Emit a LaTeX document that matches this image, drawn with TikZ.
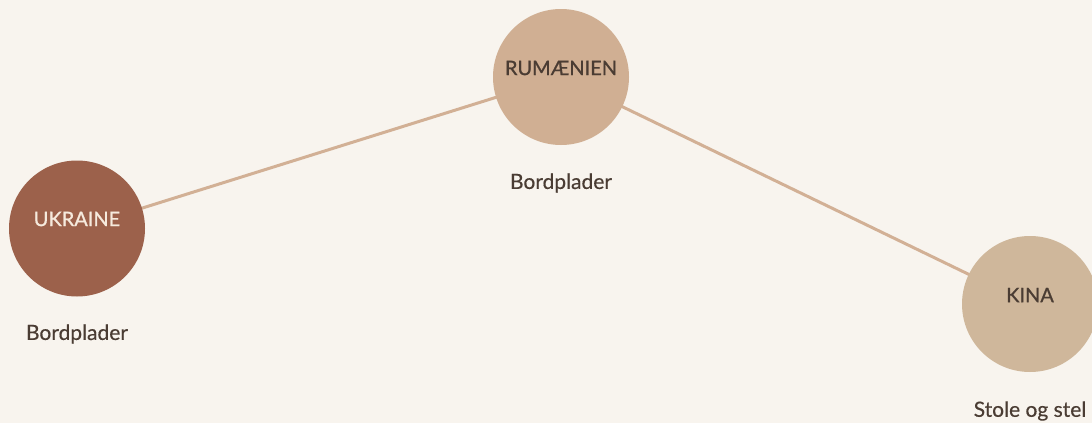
\documentclass[tikz,border=0pt]{standalone}
\usepackage{fontspec}
\setmainfont{Lato}
\newfontfamily\ctfont[FakeBold=0.9]{Lato}
\newfontfamily\subfont[FakeBold=0.4]{Lato}
\usetikzlibrary{backgrounds}
\definecolor{bg}{HTML}{F8F4EE}
\definecolor{ukr}{HTML}{9C614B}
\definecolor{rum}{HTML}{D0AF93}
\definecolor{kin}{HTML}{CFB79B}
\definecolor{ink}{HTML}{4A3C33}
\definecolor{cream}{HTML}{F6EADD}
\definecolor{edge}{HTML}{D2B095}
\tikzset{
  country/.style={circle, minimum size=136pt, inner sep=0pt, draw=none},
  ctext/.style={font=\ctfont\fontsize{20}{24}\selectfont, text=ink, anchor=center},
  sub/.style={font=\subfont\fontsize{21}{25}\selectfont, text=ink, anchor=center},
  link/.style={draw=edge, line width=3pt}
}
\begin{document}
\begin{tikzpicture}[x=1pt,y=-1pt]
\useasboundingbox (0,0) rectangle (1092,423);
\node[country, fill=ukr] (u) at (77,228.5) {};
\node[country, fill=rum] (r) at (561,77) {};
\node[country, fill=kin] (k) at (1030,304) {};
\begin{scope}[on background layer]
\fill[bg] (0,0) rectangle (1092,423);
\draw[link] (u.center) -- (r.center);
\draw[link] (r.center) -- (k.center);
\end{scope}
\node[ctext, text=cream] (ut) at (77,219) {UKRAINE};
\node[ctext] (rt) at (561,68) {RUMÆNIEN};
\node[ctext] (kt) at (1030,295) {KINA};
\node[sub] (ul) at (77,334) {Bordplader};
\node[sub] (rl) at (561,183) {Bordplader};
\node[sub] (kl) at (1030,411) {Stole og stel};
\end{tikzpicture}
\end{document}
